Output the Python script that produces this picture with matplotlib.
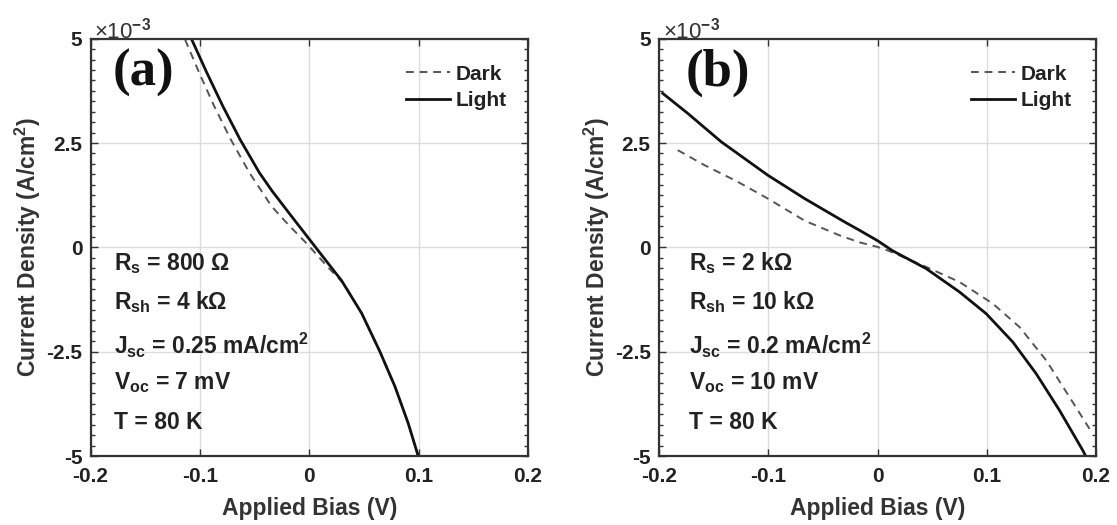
import matplotlib
matplotlib.use("Agg")
import matplotlib.pyplot as plt
from matplotlib.ticker import MultipleLocator, FixedLocator

plt.rcParams['font.family'] = ['Liberation Sans', 'DejaVu Sans']
plt.rcParams['font.weight'] = 'bold'
plt.rcParams['mathtext.fontset'] = 'custom'
plt.rcParams['mathtext.rm'] = 'Liberation Sans:bold'
plt.rcParams['mathtext.it'] = 'Liberation Sans:bold'
plt.rcParams['mathtext.bf'] = 'Liberation Sans:bold'

# ---- data (J in units of 1e-3 A/cm^2, V in volts) ----
a_light_v = [-0.1075, -0.0938, -0.0792, -0.0634, -0.0457, -0.0340, -0.0176, 0.0058,
             0.0296, 0.0479, 0.0646, 0.0784, 0.0905, 0.1003]
a_light_j = [4.98, 4.19, 3.39, 2.59, 1.79, 1.35, 0.79, 0.0,
             -0.80, -1.58, -2.50, -3.34, -4.22, -5.06]

a_dark_v = [-0.1136, -0.1008, -0.0871, -0.0719, -0.0548, -0.0344, -0.018, -0.0015,
            0.0168, 0.032, 0.0479, 0.0646, 0.0784, 0.0905, 0.1003]
a_dark_j = [4.98, 4.19, 3.39, 2.59, 1.79, 0.98, 0.51, 0.07,
            -0.47, -0.88, -1.58, -2.50, -3.34, -4.22, -5.06]

b_light_v = [-0.1966, -0.1737, -0.1431, -0.1005, -0.0668, -0.0302, -0.0165, 0.0,
             0.0137, 0.0446, 0.0751, 0.0995, 0.1239, 0.1453, 0.1667, 0.188, 0.1905]
b_light_j = [3.69, 3.21, 2.53, 1.73, 1.17, 0.61, 0.41, 0.16,
             -0.08, -0.51, -1.07, -1.59, -2.27, -3.03, -3.91, -4.87, -5.0]

b_dark_v = [-0.1829, -0.1584, -0.1279, -0.1005, -0.0668, -0.035, -0.0165, 0.0,
            0.011, 0.0446, 0.0751, 0.1056, 0.130, 0.1545, 0.1758, 0.1941]
b_dark_j = [2.33, 1.97, 1.57, 1.17, 0.64, 0.29, 0.12, 0.01,
            -0.09, -0.47, -0.83, -1.35, -1.91, -2.71, -3.59, -4.35]

x_ticks = [-0.2, -0.1, 0.0, 0.1, 0.2]
x_labels = ['-0.2', '-0.1', '0', '0.1', '0.2']
y_ticks = [-5, -2.5, 0, 2.5, 5]
y_labels = ['-5', '-2.5', '0', '2.5', '5']

a_params = ['R$_{\\mathrm{s}}$ = 800 \u03a9', 'R$_{\\mathrm{sh}}$ = 4 k\u03a9',
            'J$_{\\mathrm{sc}}$ = 0.25 mA/cm$^{2}$', 'V$_{\\mathrm{oc}}$ = 7 mV', 'T = 80 K']
b_params = ['R$_{\\mathrm{s}}$ = 2 k\u03a9', 'R$_{\\mathrm{sh}}$ = 10 k\u03a9',
            'J$_{\\mathrm{sc}}$ = 0.2 mA/cm$^{2}$', 'V$_{\\mathrm{oc}}$ = 10 mV', 'T = 80 K']

fig = plt.figure(figsize=(11.17, 5.25), dpi=100)
ax1 = fig.add_axes([0.0811, 0.1314, 0.3916, 0.7949])
ax2 = fig.add_axes([0.5900, 0.1314, 0.3912, 0.7949])

panels = [
    (ax1, a_dark_v, a_dark_j, a_light_v, a_light_j, a_params, '(a)', 0.054, 0.050, 0.955),
    (ax2, b_dark_v, b_dark_j, b_light_v, b_light_j, b_params, '(b)', 0.069, 0.061, 0.948),
]
param_y = [0.462, 0.369, 0.266, 0.175, 0.081]

for ax, dv, dj, lv, lj, params, tag, px, tx, lx in panels:
    ax.plot(dv, dj, color='#555555', lw=1.4, ls=(0, (4, 3)), label='Dark')
    ax.plot(lv, lj, color='#111111', lw=2.0, label='Light')
    ax.set_xlim(-0.2, 0.2)
    ax.set_ylim(-5, 5)
    ax.xaxis.set_major_locator(FixedLocator(x_ticks))
    ax.set_xticklabels(x_labels)
    ax.yaxis.set_major_locator(FixedLocator(y_ticks))
    ax.set_yticklabels(y_labels)
    ax.yaxis.set_minor_locator(MultipleLocator(0.25))
    ax.tick_params(which='both', direction='in', top=True, right=True,
                   labelsize=15, width=1.0, color='#333333', labelcolor='#222222')
    ax.tick_params(axis='x', which='major', length=5, pad=8)
    ax.tick_params(axis='y', which='major', length=5, pad=6)
    ax.tick_params(which='minor', length=3)
    ax.grid(True, which='major', color='#dddddd', lw=1.0)
    ax.set_axisbelow(True)
    for s in ax.spines.values():
        s.set_linewidth(1.6)
        s.set_color('#333333')
    for lab in ax.get_xticklabels() + ax.get_yticklabels():
        lab.set_fontweight('bold')
    ax.set_xlabel('Applied Bias (V)', fontsize=16.5, fontweight='bold', color='#333333')
    ax.set_ylabel('Current Density (A/cm$^{2}$)', fontsize=16.5, fontweight='bold', color='#333333')
    ax.xaxis.set_label_coords(0.5, -0.125)
    ax.xaxis.label.set_va('center')
    ax.yaxis.set_label_coords(-0.143, 0.5)
    ax.yaxis.label.set_va('center')
    for t, yy in zip(params, param_y):
        ax.text(px, yy, t, transform=ax.transAxes, fontsize=16.5, fontweight='bold',
                color='#222222', va='center', ha='left')
    ax.text(tx, 0.975, tag, transform=ax.transAxes, fontsize=38, fontweight='bold',
            family='Liberation Serif', va='top', ha='left', color='#111111')
    ax.text(0.008, 0.988, '\u00d710$^{-3}$', transform=ax.transAxes, fontsize=16,
            fontweight='normal', va='bottom', ha='left', color='#333333')
    leg = ax.legend(loc='upper right', bbox_to_anchor=(lx + 0.015, 0.958), frameon=False,
                    fontsize=15, handlelength=2.1, handletextpad=0.25, labelspacing=0.35,
                    borderaxespad=0.0)
    for t in leg.get_texts():
        t.set_fontweight('bold')
        t.set_color('#222222')

fig.savefig('out.png', dpi=100)
